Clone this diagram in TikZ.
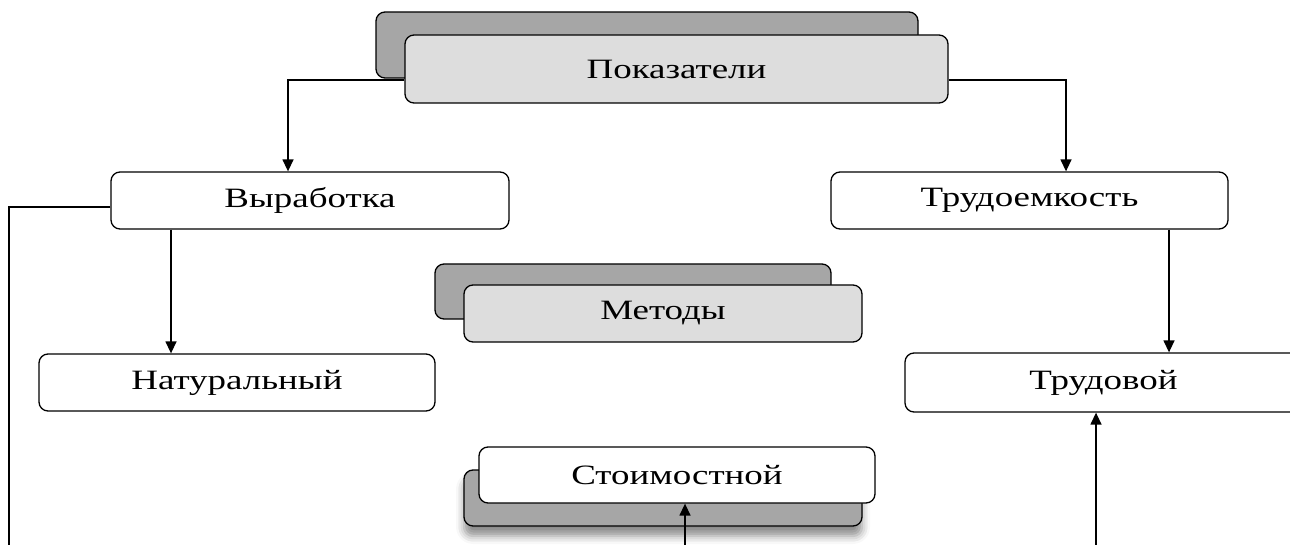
\documentclass[tikz,border=0pt]{standalone}
\usepackage{fontspec}
\setmainfont{Liberation Serif}[FakeStretch=1.32]
\usetikzlibrary{arrows.meta,calc,shadows.blur}
\definecolor{shdark}{RGB}{166,166,166}
\definecolor{shlight}{RGB}{221,221,221}
\tikzset{
  box/.style={draw=black, rounded corners=9pt, line width=1.3pt, fill=white,
    inner sep=0pt, font=\fontsize{28pt}{30pt}\selectfont},
  darkbox/.style={box, fill=shdark},
  lightbox/.style={box, fill=shlight},
  conn/.style={line width=1.4pt},
  arr/.style={conn, -{Triangle[length=12pt,width=11pt]}},
}
\begin{document}
\begin{tikzpicture}[x=1pt,y=-1pt]
\useasboundingbox (0,0) rectangle (1290,545);
% Pokazateli
\node[darkbox, minimum width=542pt, minimum height=66pt] (pokS) at (647,45) {};
\node[lightbox, minimum width=543pt, minimum height=68pt] (pok) at (676.5,69) {Показатели};
% level 2
\node[box, minimum width=398pt, minimum height=57pt] (vyr) at (310,200.5) {Выработка};
\node[box, minimum width=397pt, minimum height=57pt] (trud) at (1029.5,200.5) {Трудоемкость};
% Metody
\node[darkbox, minimum width=396pt, minimum height=55pt] (metS) at (633,291.5) {};
\node[lightbox, minimum width=398pt, minimum height=57pt] (met) at (663,313.5) {Методы};
% level 3
\node[box, minimum width=396pt, minimum height=57pt] (nat) at (237,382.5) {Натуральный};
\node[box, minimum width=397pt, minimum height=59pt] (trv) at (1103.5,382.5) {Трудовой};
% Stoimostnoy
\node[darkbox, minimum width=398pt, minimum height=56pt,
  blur shadow={shadow xshift=0pt, shadow yshift=-10pt, shadow blur radius=8pt, shadow opacity=45}] (stS) at (663,498) {};
\node[box, minimum width=396pt, minimum height=56pt] (st) at (677,475) {Стоимостной};
% free ends
\coordinate (vyrEnd) at (9,545);
\coordinate (stEnd) at (685,545);
\coordinate (trvEnd) at (1096,545);
% connectors
\draw[arr] (pok.west |- 0,80) -| (vyr.north -| 288,0);
\draw[arr] (pok.east |- 0,80) -| (trud.north -| 1066,0);
\draw[conn] (vyr.west |- 0,207) -| (vyrEnd);
\draw[arr] (vyr.south -| 171,0) -- (nat.north -| 171,0);
\draw[arr] (trud.south -| 1169,0) -- (trv.north -| 1169,0);
\draw[arr] (stEnd) -- (st.south -| stEnd);
\draw[arr] (trvEnd) -- (trv.south -| trvEnd);
\end{tikzpicture}
\end{document}
